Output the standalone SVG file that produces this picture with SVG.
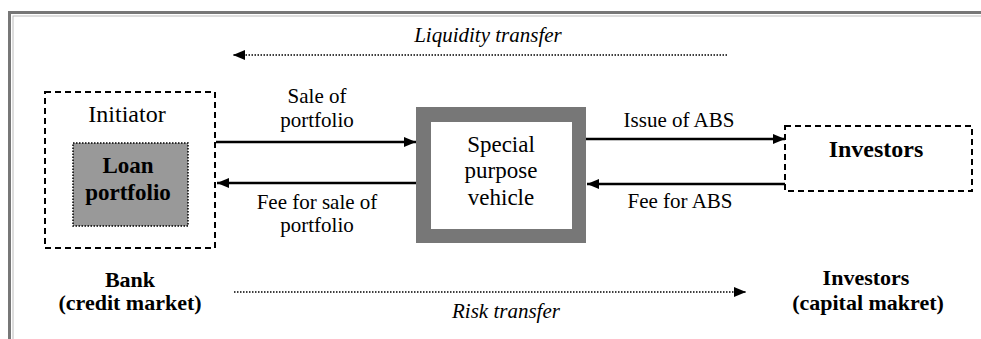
<svg xmlns="http://www.w3.org/2000/svg" width="981" height="339" viewBox="0 0 981 339">
  <style>
    text { font-family: "Liberation Serif", "DejaVu Serif", serif; fill: #000; }
    .lbl { font-size: 21px; text-anchor: middle; }
    .big { font-size: 23px; text-anchor: middle; }
    .b { font-weight: bold; }
    .it { font-style: italic; }
    .dash { fill: #fff; stroke: #000; stroke-width: 2; stroke-dasharray: 6 4; }
    .solid { stroke: #000; stroke-width: 2.5; fill: none; }
    .dot { stroke: #000; stroke-width: 1.5; stroke-dasharray: 1.5 1.5; fill: none; }
  </style>
  <defs>
    <marker id="ah" viewBox="0 0 12 10" refX="12" refY="5" markerWidth="12" markerHeight="10" markerUnits="userSpaceOnUse" orient="auto">
      <path d="M0,0 L12,5 L0,10 Z" fill="#000"/>
    </marker>
  </defs>
  <rect x="0" y="0" width="981" height="339" fill="#fff"/>
  <g id="frame">
    <rect x="9.5" y="12.5" width="1000" height="400" fill="none" stroke="#777" stroke-width="3"/>
    <rect x="13" y="16" width="1000" height="400" fill="none" stroke="#bbb" stroke-width="1"/>
  </g>

  <g id="initiator">
    <rect class="dash" x="45" y="92" width="170" height="156"/>
    <text class="big" x="127" y="122" style="font-size:24px">Initiator</text>
  </g>
  <g id="loan-portfolio">
    <rect x="73" y="143" width="115" height="83" fill="#999" stroke="#000" stroke-width="1.5" stroke-dasharray="1.5 1.5"/>
    <text class="big b" x="128" y="173">Loan</text>
    <text class="big b" x="128" y="200">portfolio</text>
  </g>
  <g id="spv">
    <rect x="416" y="107" width="170" height="136" fill="#777"/>
    <rect x="431" y="122" width="141" height="107" fill="#fff"/>
    <text class="big" x="501" y="152">Special</text>
    <text class="big" x="501" y="178">purpose</text>
    <text class="big" x="501" y="205">vehicle</text>
  </g>
  <g id="investors">
    <rect class="dash" x="785" y="126" width="187" height="65"/>
    <text class="big b" x="876" y="157" style="font-size:24px">Investors</text>
  </g>
  <g id="bank-label">
    <text class="lbl b" x="130" y="287" style="font-size:22px">Bank</text>
    <text class="lbl b" x="130" y="310" style="font-size:22px">(credit market)</text>
  </g>
  <g id="investors-label">
    <text class="lbl b" x="866" y="285" style="font-size:22px">Investors</text>
    <text class="lbl b" x="868" y="310" style="font-size:22px">(capital makret)</text>
  </g>

  <g id="connectors">
    <line class="solid" x1="216" y1="142" x2="416" y2="142" marker-end="url(#ah)"/>
    <line class="solid" x1="416" y1="183" x2="217" y2="183" marker-end="url(#ah)"/>
    <line class="solid" x1="586" y1="139" x2="785" y2="139" marker-end="url(#ah)"/>
    <line class="solid" x1="785" y1="184" x2="587" y2="184" marker-end="url(#ah)"/>
    <line class="dot" x1="727" y1="55" x2="233" y2="55" marker-end="url(#ah)"/>
    <line class="dot" x1="234" y1="292" x2="746" y2="292" marker-end="url(#ah)"/>
  </g>
  <g id="connector-labels">
    <text class="lbl" x="317" y="103">Sale of</text>
    <text class="lbl" x="317" y="127">portfolio</text>
    <text class="lbl" x="317" y="209">Fee for sale of</text>
    <text class="lbl" x="317" y="232">portfolio</text>
    <text class="lbl" x="679" y="127">Issue of ABS</text>
    <text class="lbl" x="680" y="208">Fee for ABS</text>
    <text class="lbl it" x="488" y="42">Liquidity transfer</text>
    <text class="lbl it" x="506" y="318">Risk transfer</text>
  </g>
</svg>
